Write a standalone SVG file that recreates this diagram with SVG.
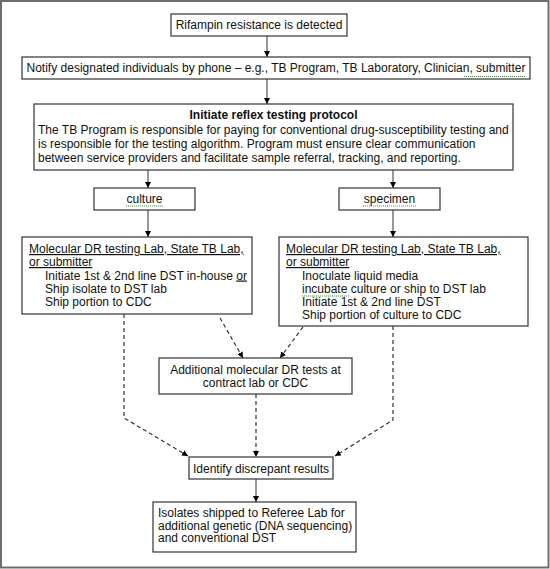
<svg xmlns="http://www.w3.org/2000/svg" width="550" height="569" viewBox="0 0 550 569">
<style>
text{font-family:"Liberation Sans",Arial,sans-serif;font-size:12px;fill:#111}
.box{fill:#fff;stroke:#333;stroke-width:1.2}
.c{stroke:#333;stroke-width:1;fill:none}
.d{stroke:#333;stroke-width:1.2;fill:none;stroke-dasharray:4 3}
.u{text-decoration:underline}
.sq{stroke:#3c9a3c;stroke-width:1;stroke-dasharray:1 1;fill:none}
.m{text-anchor:middle}
</style>
<defs>
<marker id="ah" viewBox="0 0 10 10" refX="10" refY="5" markerWidth="6" markerHeight="6" markerUnits="userSpaceOnUse" orient="auto">
<path d="M0,0 L10,5 L0,10 Z" fill="#000"/>
</marker>
</defs>
<rect x="1" y="1" width="547.5" height="566.5" fill="#fff" stroke="#6e6e6e" stroke-width="2"/>
<g id="connectors">
<line class="c" x1="267" y1="36" x2="267" y2="57" marker-end="url(#ah)"/>
<line class="c" x1="267" y1="79" x2="267" y2="104" marker-end="url(#ah)"/>
<line class="c" x1="148" y1="170" x2="148" y2="188" marker-end="url(#ah)"/>
<line class="c" x1="393" y1="170" x2="393" y2="188" marker-end="url(#ah)"/>
<line class="c" x1="148" y1="210" x2="148" y2="237" marker-end="url(#ah)"/>
<line class="c" x1="393" y1="210" x2="393" y2="237" marker-end="url(#ah)"/>
<line class="d" x1="220" y1="318" x2="243" y2="358" marker-end="url(#ah)"/>
<line class="d" x1="303" y1="327" x2="280" y2="358" marker-end="url(#ah)"/>
<polyline class="d" points="124,314 124,418 188,456" marker-end="url(#ah)"/>
<polyline class="d" points="393,326 393,420 335,456" marker-end="url(#ah)"/>
<line class="d" x1="256" y1="394" x2="256" y2="457" marker-end="url(#ah)"/>
<line class="c" x1="256" y1="479" x2="256" y2="502" marker-end="url(#ah)"/>
</g>
<g id="n1">
<rect class="box" x="171" y="14" width="176" height="22"/>
<text class="m" x="259" y="29">Rifampin resistance is detected</text>
</g>
<g id="n2">
<rect class="box" x="22" y="57" width="508" height="22"/>
<text class="m" x="276" y="72">Notify designated individuals by phone – e.g., TB Program, TB Laboratory, Clinician, submitter</text>
<path class="sq" d="M464,76.5 L526,76.5"/>
</g>
<g id="n3">
<rect class="box" x="34" y="104" width="479" height="66"/>
<text class="m" x="273.5" y="119" font-weight="bold">Initiate reflex testing protocol</text>
<text x="38" y="134">The TB Program is responsible for paying for conventional drug-susceptibility testing and</text>
<text x="38" y="148">is responsible for the testing algorithm. Program must ensure clear communication</text>
<text x="38" y="162">between service providers and facilitate sample referral, tracking, and reporting.</text>
</g>
<g id="n4">
<rect class="box" x="94" y="188" width="101" height="22"/>
<text class="m" x="144.5" y="203">culture</text>
<path class="sq" d="M126,206 L163,206"/>
</g>
<g id="n5">
<rect class="box" x="339" y="188" width="101" height="22"/>
<text class="m" x="389.5" y="203">specimen</text>
<path class="sq" d="M363,206 L416,206"/>
</g>
<g id="n6">
<rect class="box" x="22" y="237" width="230" height="77"/>
<text x="29" y="253" class="u">Molecular DR testing Lab, State TB Lab,</text>
<text x="29" y="266" class="u">or submitter</text>
<text x="45" y="279.5">Initiate 1st &amp; 2nd line DST in-house <tspan class="u">or</tspan></text>
<text x="45" y="292.5">Ship isolate to DST lab</text>
<text x="45" y="305.5">Ship portion to CDC</text>
</g>
<g id="n7">
<rect class="box" x="279" y="237" width="249" height="89"/>
<text x="286" y="253" class="u">Molecular DR testing Lab, State TB Lab,</text>
<text x="286" y="266" class="u">or submitter</text>
<text x="302" y="279.5">Inoculate liquid media</text>
<text x="302" y="292.5">incubate culture or ship to  DST lab</text>
<path class="sq" d="M302,296 L349,296"/>
<text x="302" y="305.5">Initiate 1st &amp; 2nd line DST</text>
<text x="302" y="318.5">Ship portion of culture to CDC</text>
</g>
<g id="n8">
<rect class="box" x="159" y="358" width="193" height="36"/>
<text class="m" x="255.5" y="374">Additional molecular DR tests at</text>
<text class="m" x="255.5" y="387">contract lab or CDC</text>
</g>
<g id="n9">
<rect class="box" x="189" y="457" width="144" height="22"/>
<text class="m" x="261" y="472.5">Identify discrepant results</text>
</g>
<g id="n10">
<rect class="box" x="153" y="502" width="203" height="50"/>
<text x="158" y="517">Isolates shipped to Referee Lab for</text>
<text x="158" y="529.5">additional genetic (DNA sequencing)</text>
<text x="158" y="542">and conventional DST</text>
</g>
</svg>
